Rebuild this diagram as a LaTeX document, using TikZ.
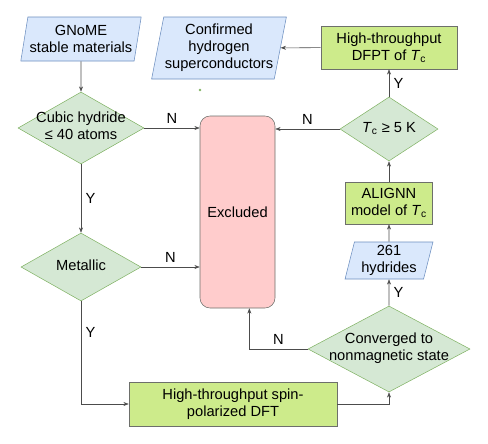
\documentclass[tikz,border=0pt]{standalone}
\usepackage{fontspec}
\setmainfont{Liberation Sans}
\usetikzlibrary{shapes.geometric,arrows.meta}
\definecolor{bluefill}{HTML}{DAE8FC}
\definecolor{blueline}{HTML}{6C8EBF}
\definecolor{greenfill}{HTML}{D5E8D4}
\definecolor{greenline}{HTML}{82B366}
\definecolor{boxfill}{HTML}{CDEB8B}
\definecolor{boxline}{HTML}{6D6F6B}
\definecolor{redfill}{HTML}{FFCCCC}
\tikzset{
  data/.style={trapezium, trapezium left angle=76, trapezium right angle=104,
    trapezium stretches=true, draw=blueline, fill=bluefill, align=center, inner sep=0pt},
  decision/.style={diamond, draw=greenline, fill=greenfill, inner sep=0pt},
  process/.style={rectangle, draw=boxline, fill=boxfill, align=center},
  line/.style={draw=black!70, -{Stealth[length=4pt,width=3pt]}}
}
\def\datanode{\node[data]}
\def\decnode{\node[decision]}
\def\procnode{\node[process]}
\newcommand{\dtext}[1]{\makebox[0pt]{\begin{tabular}{@{}c@{}}#1\end{tabular}}}
\newcommand{\Tc}{\textit{T}\textsubscript{c}}

\begin{document}
\begin{tikzpicture}[x=0.75pt,y=-0.75pt,every node/.style={font=\fontsize{11}{12.75}\selectfont}]
\useasboundingbox (0,0) rectangle (488,443);
\datanode[minimum width=90.75pt,minimum height=33pt] (gnome) at (81,39) {GNoME\\stable materials};
\datanode[minimum width=102pt,minimum height=46.5pt] (conf) at (219,48) {Confirmed\\hydrogen\\superconductors};
\procnode[minimum width=102pt,minimum height=32.25pt] (dfpt) at (389,47.5) {High-throughput\\DFPT of \Tc};
\decnode[minimum width=73.5pt,minimum height=48pt] (tc) at (389,129) {\dtext{\Tc\ ≥ 5 K}};
\node[draw=boxline,fill=redfill,rounded corners=7.5pt,minimum width=56.25pt,minimum height=144pt] (excl) at (237.5,212) {Excluded};
\decnode[minimum width=94.5pt,minimum height=54pt] (cubic) at (81,128) {\dtext{Cubic hydride\\≤ 40 atoms}};
\decnode[minimum width=90pt,minimum height=51pt] (met) at (81,267) {\dtext{Metallic}};
\procnode[minimum width=156pt,minimum height=33pt] (spin) at (233,404) {High-throughput spin-\\polarized DFT};
\decnode[minimum width=121.5pt,minimum height=64.5pt] (conv) at (389,349) {\dtext{Converged to\\nonmagnetic state}};
\datanode[minimum width=66pt,minimum height=27.75pt] (hyd) at (389,260.5) {261\\hydrides};
\procnode[minimum width=65.25pt,minimum height=31.5pt] (alignn) at (389,203) {ALIGNN\\model of \Tc};
\fill[greenline] (200,90) circle (1.3);
% connectors
\draw[line] (gnome) -- (cubic);
\draw[line] (cubic.east) -- node[above] {N} (cubic.east -| excl.west);
\draw[line] (cubic) -- node[right] {Y} (met);
\draw[line] (met.east) -- node[above] {N} (met.east -| excl.west);
\draw[line] (met.south) |- node[pos=0.15,right] {Y} (spin.west);
\draw[line] (spin.east) -| (conv.south);
\draw[line] (conv.west) -| node[pos=0.25,above] {N} (excl.-83);
\draw[line] (conv) -- node[right] {Y} (hyd);
\draw[line] (hyd) -- (alignn);
\draw[line] (alignn) -- (tc);
\draw[line] (tc.west) -- node[above] {N} (tc.west -| excl.east);
\draw[line] (tc) -- node[right] {Y} (dfpt);
\draw[line] (dfpt) -- (conf);
\end{tikzpicture}
\end{document}
